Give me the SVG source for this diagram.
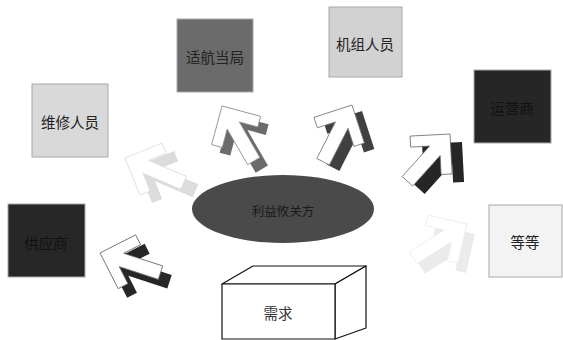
<svg xmlns="http://www.w3.org/2000/svg" width="563" height="340" viewBox="0 0 563 340">
<style>
.box{stroke:#a8a8a8;stroke-width:1}
.lbl{font-family:"Noto Sans CJK SC","Noto Sans CJK JP",sans-serif;font-size:14.5px;text-anchor:middle;dominant-baseline:central;fill:#222}
.wa{fill:#ffffff;stroke-width:0.8}
</style>
<defs>
<path id="arr" d="M0,0 L40,0 L40,11 L21,11 L50,40 L40,50 L11,21 L11,40 L0,40 Z"/>
</defs>
<rect width="563" height="340" fill="#ffffff"/>
<g id="connectors">
  <use href="#arr" transform="translate(137,166) rotate(-22)" fill="#dcdcdc"/>
  <use href="#arr" class="wa" stroke="#dcdcdc" transform="translate(125,158) rotate(-22)"/>
  <use href="#arr" transform="translate(230,114) rotate(15)" fill="#6b6b6b"/>
  <use href="#arr" class="wa" stroke="#8a8a8a" transform="translate(222,106) rotate(15)"/>
  <use href="#arr" transform="translate(362,111) rotate(72)" fill="#404040"/>
  <use href="#arr" class="wa" stroke="#777" transform="translate(352,105) rotate(72)"/>
  <use href="#arr" transform="translate(462,142) rotate(87)" fill="#262626"/>
  <use href="#arr" class="wa" stroke="#666" transform="translate(450,134) rotate(87)"/>
  <use href="#arr" transform="translate(475,234) rotate(103)" fill="#ebebeb"/>
  <use href="#arr" class="wa" stroke="#ebebeb" transform="translate(467,224) rotate(103)"/>
  <use href="#arr" transform="translate(109,262) rotate(-27)" fill="#262626"/>
  <use href="#arr" class="wa" stroke="#666" transform="translate(100,253) rotate(-27)"/>
</g>
<g id="stakeholders">
  <ellipse cx="283" cy="209" rx="91" ry="34" fill="#4a4a4a"/>
  <text class="lbl" x="283" y="210" style="font-size:12.5px;fill:#1a1a1a">利益攸关方</text>
</g>
<g id="maintenance">
  <rect class="box" x="32" y="84" width="76" height="73" fill="#d9d9d9"/>
  <text class="lbl" x="70" y="121">维修人员</text>
</g>
<g id="authority">
  <rect class="box" x="177" y="19" width="76" height="73" fill="#6b6b6b"/>
  <text class="lbl" x="215" y="56">适航当局</text>
</g>
<g id="crew">
  <rect class="box" x="329" y="7" width="73" height="70" fill="#d2d2d2"/>
  <text class="lbl" x="365" y="43">机组人员</text>
</g>
<g id="operator">
  <rect class="box" x="474" y="70" width="77" height="73" fill="#262626"/>
  <text class="lbl" x="512" y="107" style="fill:#111">运营商</text>
</g>
<g id="supplier">
  <rect class="box" x="8" y="204" width="77" height="73" fill="#272727"/>
  <text class="lbl" x="46" y="242" style="fill:#111">供应商</text>
</g>
<g id="etc">
  <rect class="box" x="489" y="205" width="73" height="72" fill="#f3f3f3" stroke="#c8c8c8"/>
  <text class="lbl" x="525" y="241">等等</text>
</g>
<g id="requirements" fill="#ffffff" stroke="#111" stroke-width="1.2" stroke-linejoin="round">
  <polygon points="222,284 253,266 366,266 335,284"/>
  <polygon points="335,284 366,266 366,328 335,339"/>
  <rect x="222" y="284" width="113" height="55"/>
  <text class="lbl" x="278" y="312" stroke="none" style="fill:#333">需求</text>
</g>
</svg>
